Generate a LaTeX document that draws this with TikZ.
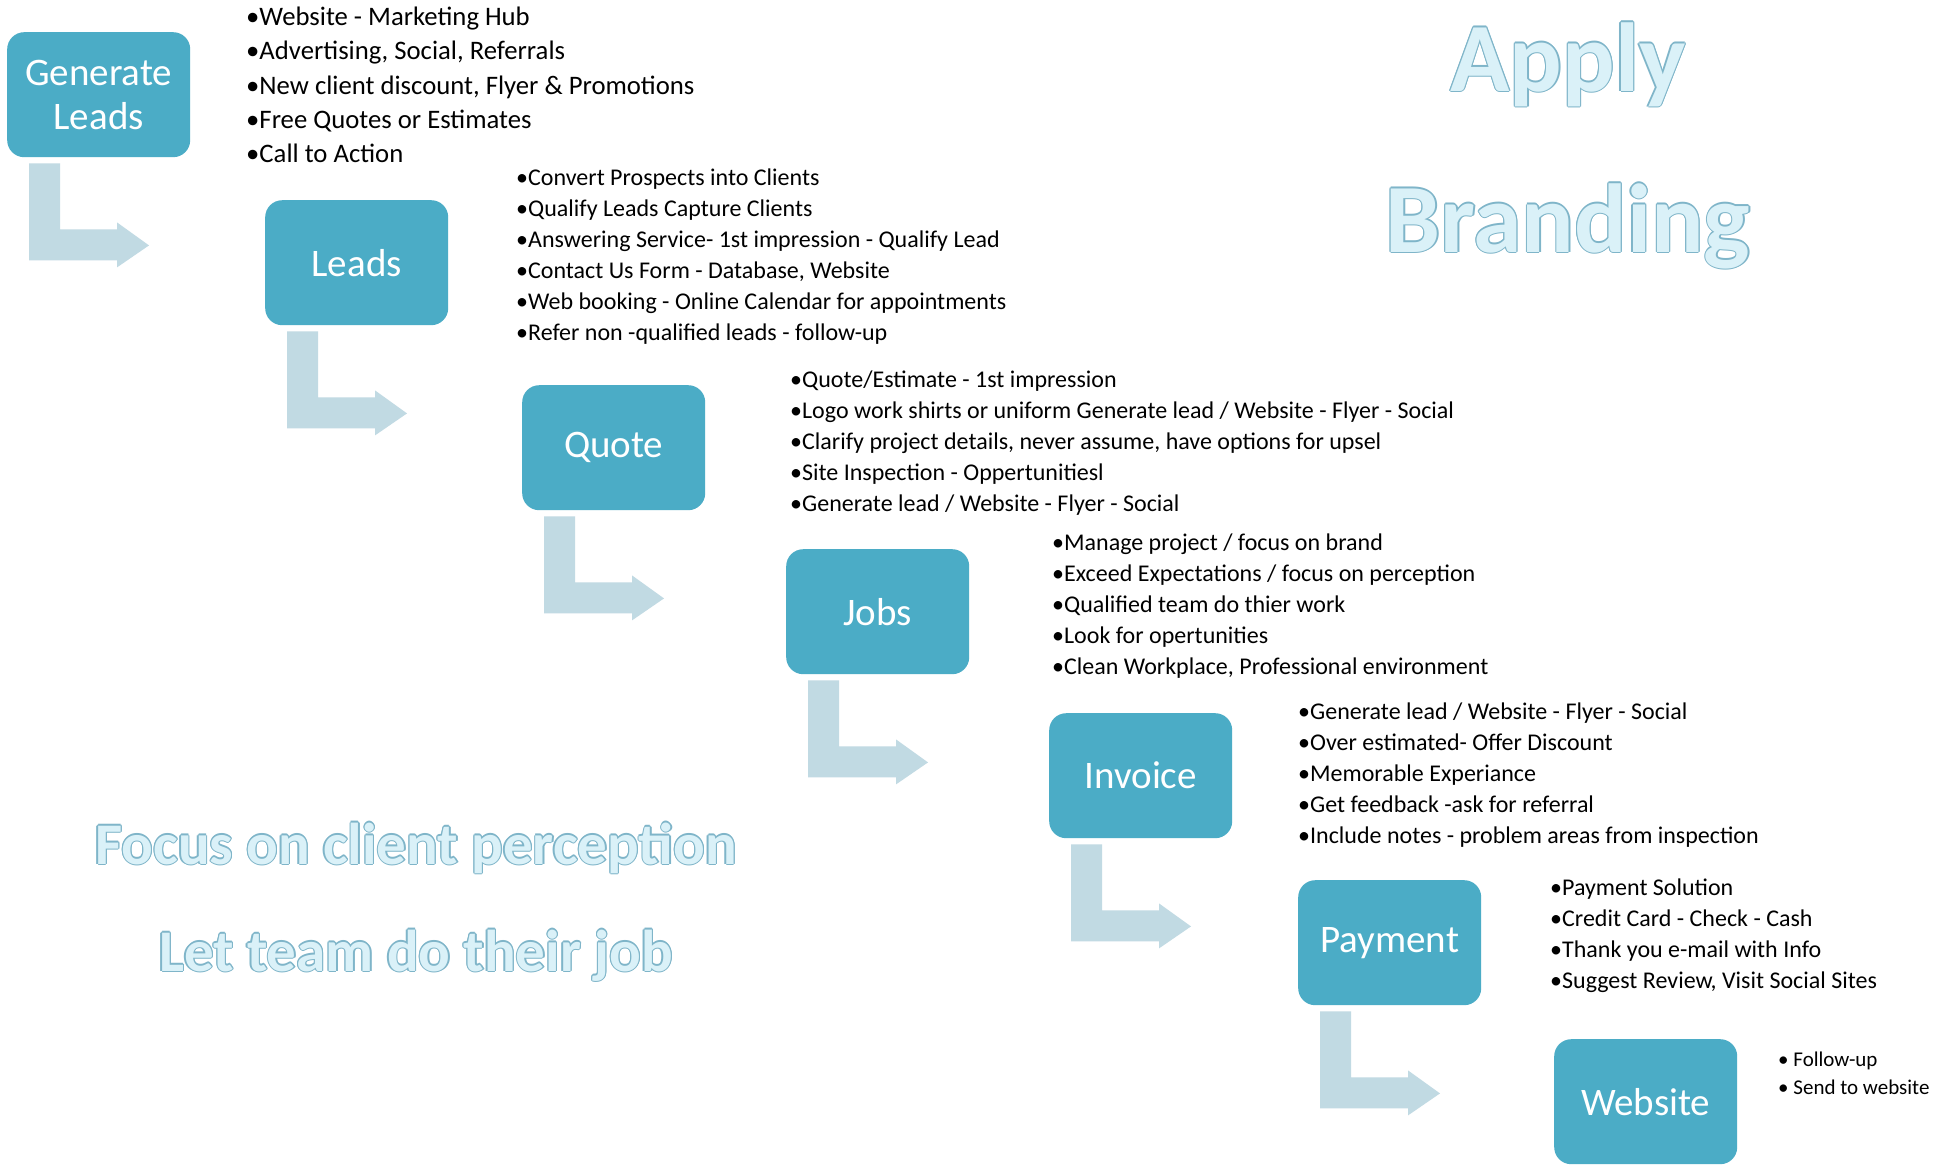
\documentclass[tikz,border=0pt]{standalone}
\usepackage{fontspec}
\setmainfont{Carlito}
\usepackage{tikz}

\definecolor{boxblue}{HTML}{4BACC6}
\definecolor{arrowblue}{HTML}{C1DAE3}
\definecolor{wordfill}{HTML}{DAF1F8}
\definecolor{wordedge}{HTML}{7FB5C9}

\newcommand\bentarrow[1]{\fill[arrowblue] ([shift={(22,6)}]#1.south west)
  -- ++(31,0) -- ++(0,66) -- ++(57,0) -- ++(0,-7) -- ++(32,23)
  -- ++(-32,22) -- ++(0,-7) -- ++(-88,0) -- cycle;}
\newcommand\outlined[1]{{\def\ot{#1}%
  \rlap{\color{wordedge}\kern-1.3pt\ot}\rlap{\color{wordedge}\kern1.3pt\ot}%
  \rlap{\color{wordedge}\raisebox{1.3pt}{\ot}}\rlap{\color{wordedge}\raisebox{-1.3pt}{\ot}}%
  \rlap{\color{wordedge}\kern-0.9pt\raisebox{0.9pt}{\ot}}\rlap{\color{wordedge}\kern0.9pt\raisebox{-0.9pt}{\ot}}%
  \rlap{\color{wordedge}\kern0.9pt\raisebox{0.9pt}{\ot}}\rlap{\color{wordedge}\kern-0.9pt\raisebox{-0.9pt}{\ot}}%
  \color{wordfill}\ot}}

\begin{document}
\begin{tikzpicture}
[x=1pt,y=-1pt,
 stage/.style={rectangle,rounded corners=17pt,fill=boxblue,text=white,
   minimum width=183pt,minimum height=125pt,inner sep=0pt,anchor=north west,
   align=center,font=\fontsize{39}{44}\selectfont},
 items/.style={anchor=north west,inner sep=0pt,align=left,
   font=\fontsize{24}{30.9}\selectfont},
 word/.style={anchor=base,inner sep=0pt,font=\bfseries\fontsize{98}{100}\selectfont},
 smallword/.style={anchor=base,inner sep=0pt,font=\bfseries\fontsize{59}{60}\selectfont}]
\useasboundingbox[fill=white] (0,0) rectangle (1948,1165);

\node[stage] (gen) at (7,32) {Generate\\Leads};
\node[stage] (leads) at (265,200) {Leads};
\node[stage] (quote) at (522,385) {Quote};
\node[stage] (jobs) at (786,549) {Jobs};
\node[stage] (invoice) at (1049,713) {Invoice};
\node[stage] (payment) at (1298,880) {Payment};
\node[stage] (website) at (1554,1039) {Website};

\bentarrow{gen}
\bentarrow{leads}
\bentarrow{quote}
\bentarrow{jobs}
\bentarrow{invoice}
\bentarrow{payment}

\node[items,font=\fontsize{26.7}{34.2}\selectfont] (gentext) at (246,7)
{•Website - Marketing Hub\\•Advertising, Social, Referrals\\
 •New client discount, Flyer \& Promotions\\•Free Quotes or Estimates\\
 •Call to Action};
\node[items] (leadstext) at (516,169)
{•Convert Prospects into Clients\\•Qualify Leads Capture Clients\\
 •Answering Service- 1st impression - Qualify Lead\\
 •Contact Us Form - Database, Website\\
 •Web booking - Online Calendar for appointments\\
 •Refer non -qualified leads - follow-up};
\node[items] (quotetext) at (790,371)
{•Quote/Estimate - 1st impression\\
 •Logo work shirts or uniform Generate lead / Website - Flyer - Social\\
 •Clarify project details, never assume, have options for upsel\\
 •Site Inspection - Oppertunitiesl\\
 •Generate lead / Website - Flyer - Social};
\node[items] (jobstext) at (1052,534)
{•Manage project / focus on brand\\
 •Exceed Expectations / focus on perception\\
 •Qualified team do thier work\\•Look for opertunities\\
 •Clean Workplace, Professional environment};
\node[items] (invoicetext) at (1298,703)
{•Generate lead / Website - Flyer - Social\\
 •Over estimated- Offer Discount\\•Memorable Experiance\\
 •Get feedback -ask for referral\\
 •Include notes - problem areas from inspection};
\node[items] (paymenttext) at (1550,879)
{•Payment Solution\\•Credit Card - Check - Cash\\
 •Thank you e-mail with Info\\•Suggest Review, Visit Social Sites};
\node[items,font=\fontsize{21}{27.3}\selectfont] (websitetext) at (1778,1052)
{• Follow-up\\• Send to website};

\node[word] (apply) at (1568,91) {\outlined{Apply}};
\node[word] (branding) at (1568,252) {\outlined{Branding}};
\node[smallword] (focus) at (416,864) {\outlined{Focus on client perception}};
\node[smallword] (team) at (416,971) {\outlined{Let team do their job}};
\end{tikzpicture}
\end{document}
